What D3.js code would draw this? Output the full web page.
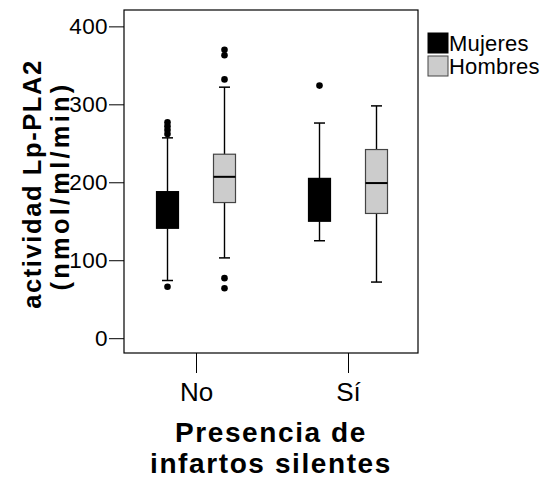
<!DOCTYPE html>
<html><head><meta charset="utf-8">
<script src="https://cdn.jsdelivr.net/npm/d3@7"></script>
<style>body{margin:0;background:#fff;} svg{display:block;font-family:"Liberation Sans",Arial,sans-serif;}</style>
</head><body><svg id="c" width="540" height="478"></svg>
<script>
const categories = ["No", "Sí"];
const seriesNames = ["Mujeres", "Hombres"];
const seriesColors = ["#000000", "#cccccc"];
// [whiskerLow, q1, median, q3, whiskerHigh]
const mujeresStats = [[74, 141, 163, 188, 257], [125, 150, 176, 205, 276]];
const hombresStats = [[103, 174, 207, 236, 322], [72, 160, 199, 242, 298]];
const mujeresOutliers = [[66, 262, 267, 272, 277], [324]];
const hombresOutliers = [[64, 77, 332, 363, 370], []];
const yTicks = [0, 100, 200, 300, 400];

const svg = d3.select("#c");
const L = 124, R = 418, T = 10, B = 353;
const y = d3.scaleLinear().domain([-19, 421]).range([B, T]);
const x = d3.scalePoint().domain(categories).range([196, 348]);
const xs = d3.scaleBand().domain(seriesNames).range([-39.5, 39.5]).paddingInner(0.614).paddingOuter(0);

// frame
svg.append("rect").attr("x", L).attr("y", T).attr("width", R - L).attr("height", B - T)
  .attr("fill", "none").attr("stroke", "#000").attr("stroke-width", 1.2);

// y axis
const yAxis = d3.axisLeft(y).tickValues(yTicks).tickSize(15).tickPadding(1);
const ga = svg.append("g").attr("transform", `translate(${L},0)`).call(yAxis);
ga.select(".domain").remove();
ga.selectAll("line").attr("stroke", "#000").attr("stroke-width", 1);
ga.selectAll("text").attr("font-size", 22.5).attr("letter-spacing", 0.4).attr("fill", "#000").attr("font-family", "Liberation Sans, Arial, sans-serif");

// x axis
const xAxis = d3.axisBottom(x).tickSize(20).tickPadding(10);
const gx = svg.append("g").attr("transform", `translate(0,${B})`).call(xAxis);
gx.select(".domain").remove();
gx.selectAll("line").attr("stroke", "#000").attr("stroke-width", 1);
gx.selectAll("text").attr("font-size", 26).attr("fill", "#000").attr("font-family", "Liberation Sans, Arial, sans-serif");

// boxes
const allStats = [mujeresStats, hombresStats];
const allOut = [mujeresOutliers, hombresOutliers];
const bw = xs.bandwidth();
seriesNames.forEach((s, si) => {
  categories.forEach((c, ci) => {
    const st = allStats[si][ci];
    const cx = x(c) + xs(s) + bw / 2;
    const g = svg.append("g");
    g.append("line").attr("x1", cx).attr("x2", cx).attr("y1", y(st[0])).attr("y2", y(st[1])).attr("stroke", "#000").attr("stroke-width", 1.4);
    g.append("line").attr("x1", cx).attr("x2", cx).attr("y1", y(st[3])).attr("y2", y(st[4])).attr("stroke", "#000").attr("stroke-width", 1.4);
    [st[0], st[4]].forEach(v => g.append("line").attr("x1", cx - 5.5).attr("x2", cx + 5.5).attr("y1", y(v)).attr("y2", y(v)).attr("stroke", "#000").attr("stroke-width", 1.5));
    g.append("rect").attr("x", cx - bw / 2).attr("y", y(st[3])).attr("width", bw).attr("height", y(st[1]) - y(st[3]))
      .attr("fill", seriesColors[si]).attr("stroke", si === 0 ? "#000" : "#444").attr("stroke-width", 1.2);
    g.append("line").attr("x1", cx - bw / 2).attr("x2", cx + bw / 2).attr("y1", y(st[2])).attr("y2", y(st[2])).attr("stroke", "#000").attr("stroke-width", 2);
    allOut[si][ci].forEach(v => g.append("circle").attr("cx", cx).attr("cy", y(v)).attr("r", 3.3).attr("fill", "#000"));
  });
});

// y title
const yt = svg.append("text").attr("transform", "translate(0,184) rotate(-90)")
  .attr("text-anchor", "middle").attr("font-weight", "bold").attr("font-size", 25.5).attr("fill", "#000");
yt.append("tspan").attr("x", 0).attr("y", 41).attr("letter-spacing", 1.6).text("actividad Lp-PLA2");
yt.append("tspan").attr("x", -2).attr("y", 69).attr("letter-spacing", 3.2).text("(nmol/ml/min)");

// x title
const xt = svg.append("text").attr("text-anchor", "middle").attr("font-weight", "bold").attr("font-size", 28).attr("letter-spacing", 1.6).attr("fill", "#000");
xt.append("tspan").attr("x", 271).attr("y", 442).text("Presencia de");
xt.append("tspan").attr("x", 271).attr("y", 473).text("infartos silentes");

// legend
const lg = svg.append("g").attr("transform", "translate(428,33)");
seriesNames.forEach((s, i) => {
  lg.append("rect").attr("x", 0).attr("y", i * 23).attr("width", 20).attr("height", 20)
    .attr("fill", seriesColors[i]).attr("stroke", i === 0 ? "#000" : "#444").attr("stroke-width", 1);
  lg.append("text").attr("x", 21).attr("y", i * 23 + 18).attr("font-size", 22).attr("letter-spacing", 0.2).attr("fill", "#000").text(s);
});
</script></body></html>
